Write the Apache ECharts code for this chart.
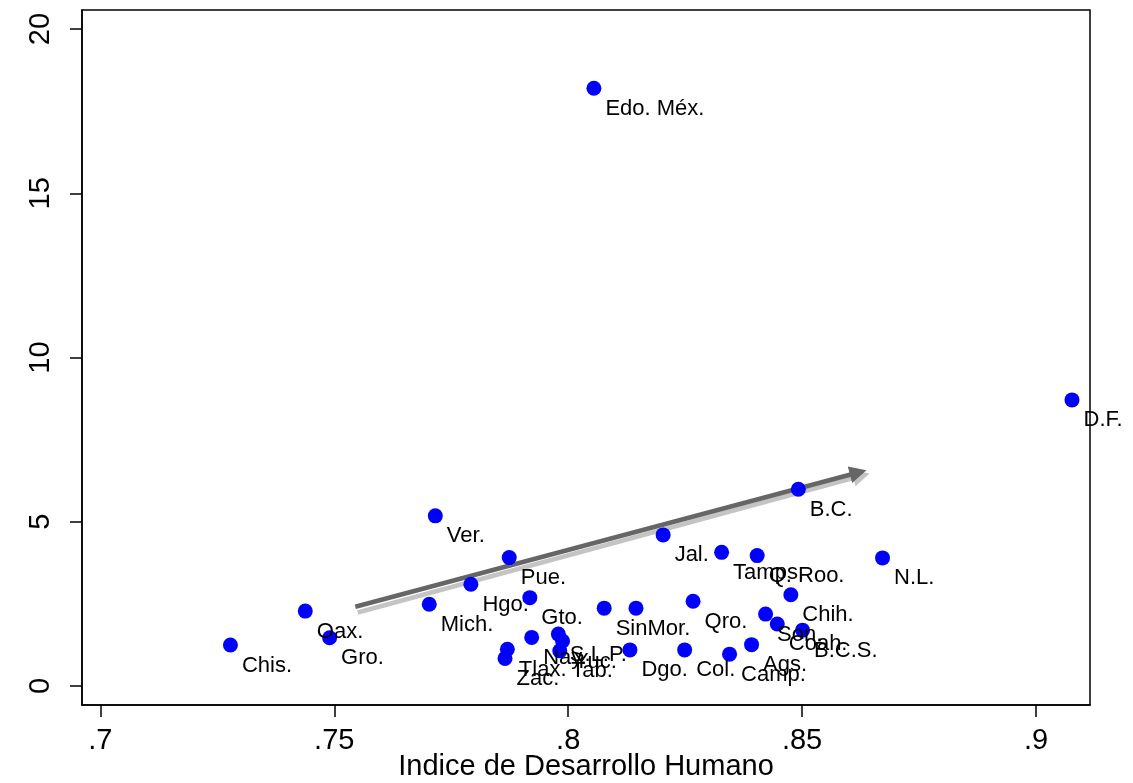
<!DOCTYPE html>
<html>
<head>
<meta charset="utf-8">
<script src="https://cdn.jsdelivr.net/npm/echarts@6/dist/echarts.min.js"></script>
<style>
html,body{margin:0;padding:0;background:#fff;}
#chart{width:1133px;height:783px;}
</style>
</head>
<body>
<div id="chart"></div>
<script>
// Data
const states = ['Edo. Méx.','D.F.','B.C.','Ver.','Jal.','Tamps.','Q. Roo.','N.L.','Pue.','Hgo.','Gto.','Mich.','Oax.','Gro.','Chis.','Sin.','Mor.','Qro.','Chih.','Son.','Coah.','B.C.S.','Ags.','Camp.','Col.','Dgo.','Nay.','S.L.P.','Yuc.','Tab.','Tlax.','Zac.'];
const hdi    = [0.8055,0.9077,0.8492,0.7716,0.8203,0.8328,0.8404,0.8672,0.7874,0.7792,0.7918,0.7703,0.7438,0.7490,0.7278,0.8077,0.8145,0.8267,0.8476,0.8422,0.8447,0.8501,0.8392,0.8345,0.8249,0.8132,0.7922,0.7979,0.7988,0.7982,0.7870,0.7865];
const share  = [18.20,8.71,5.99,5.18,4.60,4.07,3.97,3.90,3.91,3.10,2.69,2.49,2.28,1.47,1.25,2.37,2.37,2.58,2.78,2.19,1.89,1.70,1.26,0.97,1.10,1.10,1.48,1.58,1.37,1.07,1.12,0.84];

const xTicks = [0.7,0.75,0.8,0.85,0.9];
const yTicks = [0,5,10,15,20];
const xTitle = 'Indice de Desarrollo Humano';

// Trend arrow (data coordinates) and its shadow
const arrowMain   = [[0.7545,2.414],[0.8620,6.500]];
const arrowShadow = [[0.7550,2.237],[0.8627,6.400]];

const font = 'Liberation Sans, Arial, Helvetica, sans-serif';

const chart = echarts.init(document.getElementById('chart'));
chart.setOption({
  animation:false,
  backgroundColor:'#fff',
  grid:{left:82,right:43,top:10,bottom:78,outerBoundsMode:'none',containLabel:false,
    show:true,borderColor:'#000',borderWidth:1.5,backgroundColor:'transparent'},
  xAxis:{
    type:'value',min:0.69607,max:0.91155,
    name:xTitle,nameLocation:'middle',nameGap:47,nameMoveOverlap:false,
    nameTextStyle:{fontFamily:font,fontSize:29,color:'#000',verticalAlign:'top'},
    axisLine:{show:true,onZero:false,lineStyle:{color:'#000',width:1.5}},
    axisTick:{show:true,length:12,lineStyle:{color:'#000',width:1.5},customValues:xTicks},
    axisLabel:{fontFamily:font,fontSize:29,color:'#000',margin:21,customValues:xTicks,
      formatter:v=>String(v).replace(/^0/,'')},
    splitLine:{show:false}
  },
  yAxis:{
    type:'value',min:-0.578,max:20.58,
    axisLine:{show:true,onZero:false,lineStyle:{color:'#000',width:1.5}},
    axisTick:{show:true,length:12,lineStyle:{color:'#000',width:1.5},customValues:yTicks},
    axisLabel:{fontFamily:font,fontSize:29,color:'#000',margin:27,rotate:90,customValues:yTicks},
    splitLine:{show:false}
  },
  series:[
    {
      type:'lines',coordinateSystem:'cartesian2d',silent:true,z:1,
      data:[{coords:arrowShadow}],
      lineStyle:{color:'#c4c4c4',width:4.5,opacity:1,curveness:0},
      symbol:['none','triangle'],symbolSize:[0,17]
    },
    {
      type:'lines',coordinateSystem:'cartesian2d',silent:true,z:2,
      data:[{coords:arrowMain}],
      lineStyle:{color:'#666666',width:4.5,opacity:1,curveness:0},
      symbol:['none','triangle'],symbolSize:[0,17]
    },
    {
      type:'scatter',z:5,
      symbol:'circle',symbolSize:15,
      itemStyle:{color:'#0000ff',opacity:1},
      data:states.map((s,i)=>({name:s,value:[hdi[i],share[i]]})),
      label:{show:true,formatter:'{b}',position:[19,28],align:'left',verticalAlign:'middle',
        fontFamily:font,fontSize:22,color:'#000',opacity:1},
      labelLayout:{hideOverlap:false}
    }
  ]
});
</script>
</body>
</html>
